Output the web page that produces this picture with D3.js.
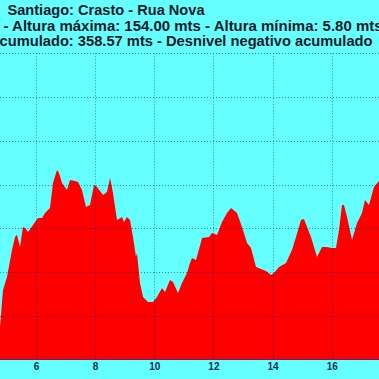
<!DOCTYPE html>
<html><head><meta charset="utf-8">
<script src="https://cdn.jsdelivr.net/npm/d3@7"></script>
<style>html,body{margin:0;padding:0;background:#66ffff;overflow:hidden}svg{display:block}</style>
</head><body>
<script>
const titleLines = [
  "Santiago: Crasto - Rua Nova",
  "- Altura máxima: 154.00 mts - Altura mínima: 5.80 mts",
  "cumulado: 358.57 mts - Desnivel negativo acumulado"
];
const xTicks = [6, 8, 10, 12, 14, 16];
const yTicks = [0, 25, 50, 75, 100, 125, 150, 175];
const km = [4.783,4.884,5.019,5.188,5.290,5.357,5.459,5.560,5.628,5.729,5.899,6.068,6.203,6.304,6.473,6.575,6.710,6.778,6.879,7.048,7.150,7.319,7.420,7.556,7.691,7.826,7.961,8.063,8.266,8.401,8.503,8.604,8.739,8.908,8.976,9.077,9.179,9.280,9.382,9.416,9.517,9.619,9.788,9.957,10.092,10.261,10.363,10.532,10.633,10.802,10.937,11.107,11.208,11.276,11.411,11.580,11.614,11.851,11.952,12.121,12.290,12.459,12.595,12.797,12.967,13.136,13.271,13.440,13.609,13.778,13.947,14.049,14.218,14.455,14.657,14.793,14.962,15.063,15.165,15.300,15.503,15.672,15.807,16.010,16.145,16.247,16.348,16.416,16.518,16.687,16.856,17.025,17.126,17.261,17.431,17.600];
const alt = [18.6,39.7,47.1,62.6,70.0,71.2,64.3,75.7,75.2,72.9,76.9,80.9,80.9,83.7,86.6,100.9,108.3,106.6,100.9,96.9,102.6,102.0,101.4,96.9,87.2,88.3,99.7,98.6,94.0,95.7,103.7,95.2,79.7,81.4,78.6,81.4,79.7,70.0,58.6,60.9,43.7,35.7,32.9,32.9,35.7,40.9,38.6,45.4,44.3,38.0,43.7,49.4,55.1,58.0,56.9,67.2,69.4,70.0,72.3,71.2,78.6,83.7,86.6,83.7,75.7,66.6,63.7,52.9,51.7,50.6,48.3,49.4,52.9,55.1,62.6,70.0,79.7,80.3,75.7,70.0,58.6,64.3,64.3,63.7,63.7,74.0,88.3,88.3,81.4,68.3,78.0,83.7,91.2,88.3,98.6,102.0,103.2];

const W = 379, H = 379;
const svg = d3.select("body").append("svg").attr("width", W).attr("height", H);
svg.append("rect").attr("width", W).attr("height", H).attr("fill", "#66ffff");

const x = d3.scaleLinear().domain([6, 16]).range([36, 331.7]);
const y = d3.scaleLinear().domain([0, 175]).range([359.5, 53.3]);
const data = km.map((k, i) => ({k, a: alt[i]}));

const area = d3.area().x(d => x(d.k)).y0(y(0)).y1(d => y(d.a));

function grid(g, dash, color, op) {
  g.selectAll("line.v").data(xTicks).join("line").attr("class","v")
    .attr("x1", d => Math.round(x(d)) + 0.5).attr("x2", d => Math.round(x(d)) + 0.5)
    .attr("y1", y(175)).attr("y2", y(0))
    .attr("stroke", color).attr("stroke-opacity", op).attr("stroke-dasharray", dash);
  g.selectAll("line.h").data(yTicks.slice(1)).join("line").attr("class","h")
    .attr("x1", 0).attr("x2", W)
    .attr("y1", d => Math.round(y(d)) + 0.5).attr("y2", d => Math.round(y(d)) + 0.5)
    .attr("stroke", color).attr("stroke-opacity", op).attr("stroke-dasharray", dash);
}
grid(svg.append("g"), "1,2", "#004a6a", 0.6);

svg.append("path").datum(data).attr("d", area).attr("fill", "#ff0000");
svg.append("clipPath").attr("id", "ac").append("path").datum(data).attr("d", area);
grid(svg.append("g").attr("clip-path", "url(#ac)"), null, "#800040", 0.45);

svg.append("line").attr("x1", 0).attr("x2", W).attr("y1", 359.5).attr("y2", 359.5)
  .attr("stroke", "#702060").attr("stroke-width", 1);

const xAxis = d3.axisBottom(x).tickValues(xTicks).tickSize(0).tickFormat(d3.format("d"));
const ga = svg.append("g").attr("transform", `translate(0,${y(0)})`).call(xAxis);
ga.select(".domain").remove();
ga.selectAll("text").attr("dy", 0).attr("y", 10)
  .attr("font-family", "Liberation Sans, Arial, sans-serif").attr("font-weight", "bold")
  .attr("font-size", 10).attr("fill", "#1a3050");

const tpos = [[7.5, 14.5, 197], [3.5, 31, 379], [-0.5, 46, 373]];
svg.selectAll("text.title").data(titleLines).join("text").attr("class", "title")
  .attr("x", (d, i) => tpos[i][0]).attr("y", (d, i) => tpos[i][1])
  .attr("textLength", (d, i) => tpos[i][2]).attr("lengthAdjust", "spacingAndGlyphs")
  .attr("font-family", "Liberation Sans, Arial, sans-serif").attr("font-weight", "bold")
  .attr("font-size", 15).attr("fill", "#141a28").text(d => d);
</script>
</body></html>
